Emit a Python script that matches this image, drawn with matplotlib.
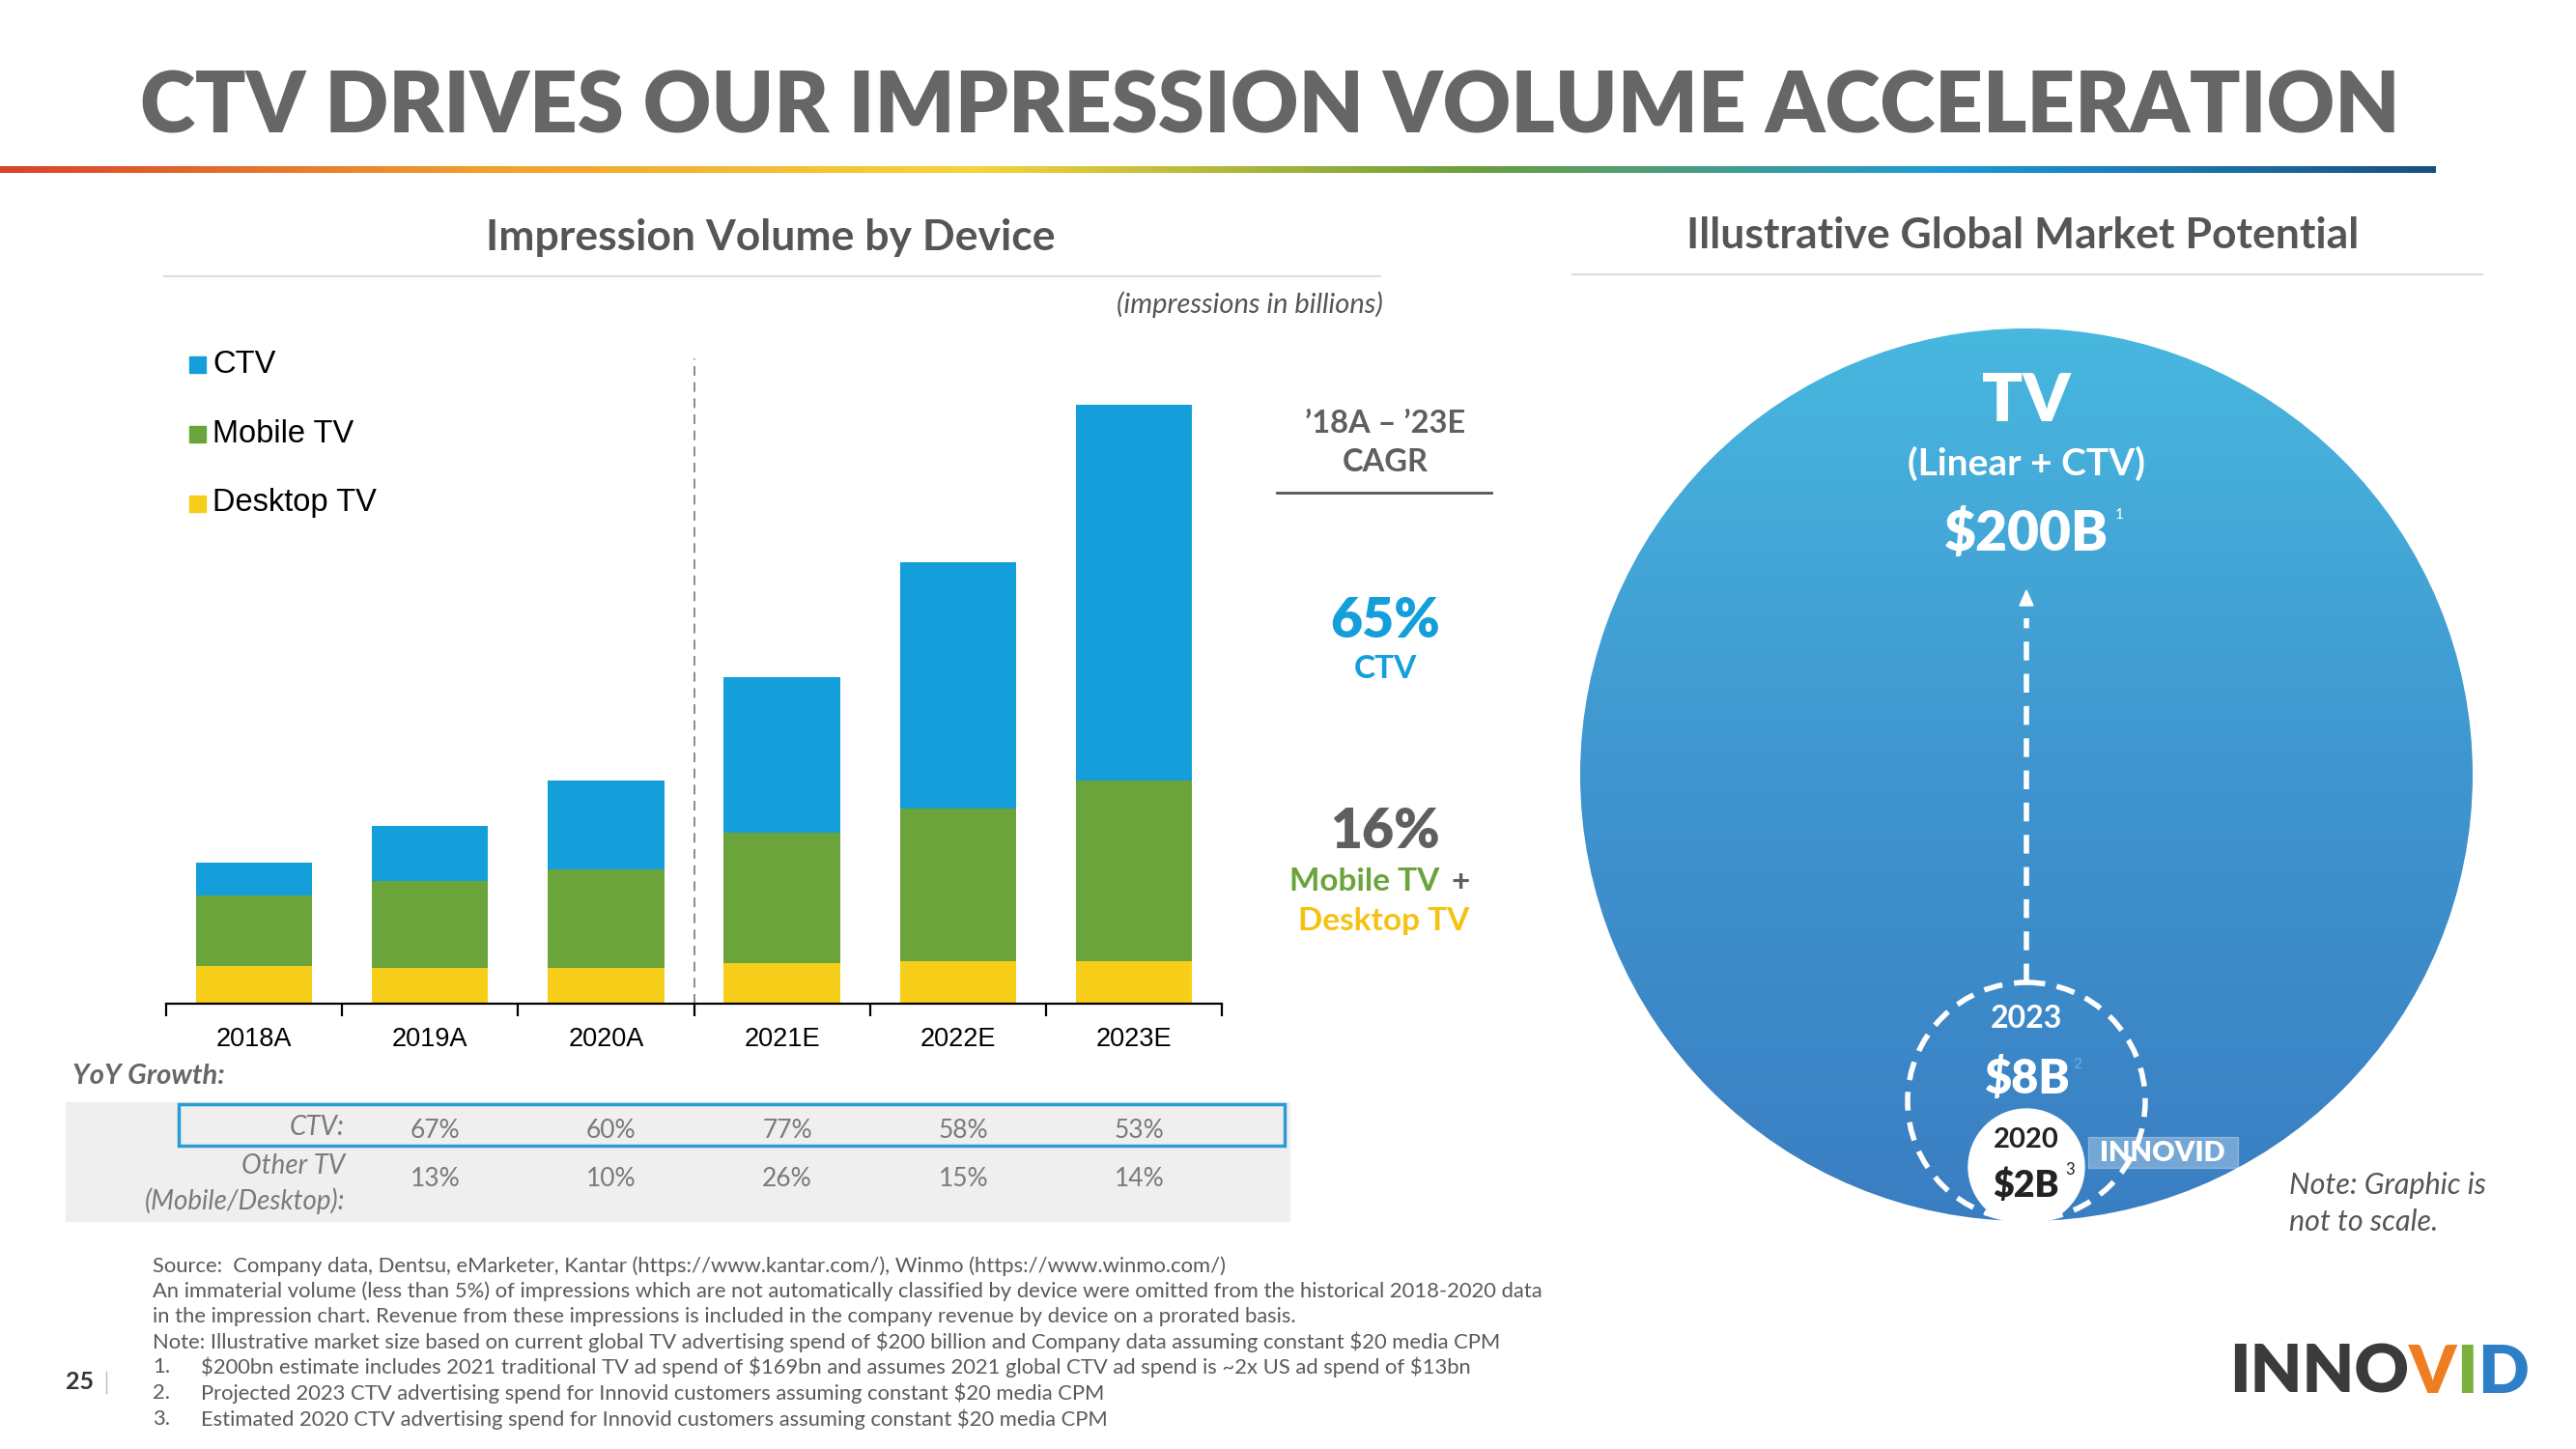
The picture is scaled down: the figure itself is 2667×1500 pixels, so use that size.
import numpy as np
import matplotlib.pyplot as plt
import matplotlib.transforms as mtransforms
from matplotlib.patches import Circle, Rectangle, Polygon
from matplotlib.colors import LinearSegmentedColormap

# --- datos del grafico ---
YEARS = ['2018A', '2019A', '2020A', '2021E', '2022E', '2023E']
DESKTOP = [23, 22, 22, 25, 26, 26]
MOBILE = [43, 53, 60, 79, 93, 110]
CTV = [20, 33, 54, 95, 150, 229]
SERIES_NAMES = ['CTV', 'Mobile TV', 'Desktop TV']

YOY_YEARS = YEARS[1:]
YOY_CTV = ['67%', '60%', '77%', '58%', '53%']
YOY_OTHER = ['13%', '10%', '26%', '15%', '14%']

CAGR_CTV = '65%'
CAGR_OTHER = '16%'

FOOTNOTES = [
    'Source:  Company data, Dentsu, eMarketer, Kantar (https://www.kantar.com/), Winmo (https://www.winmo.com/)',
    'An immaterial volume (less than 5%) of impressions which are not automatically classified by device were omitted from the historical 2018-2020 data',
    'in the impression chart. Revenue from these impressions is included in the company revenue by device on a prorated basis.',
    'Note: Illustrative market size based on current global TV advertising spend of $200 billion and Company data assuming constant $20 media CPM',
]
NUMBERED_NOTES = [
    '$200bn estimate includes 2021 traditional TV ad spend of $169bn and assumes 2021 global CTV ad spend is ~2x US ad spend of $13bn',
    'Projected 2023 CTV advertising spend for Innovid customers assuming constant $20 media CPM',
    'Estimated 2020 CTV advertising spend for Innovid customers assuming constant $20 media CPM',
]

# --- colores ---
BLUE = '#149fda'
GREEN = '#6aa43a'
YELLOW = '#f7ce19'
GRAY = '#5f5f5f'
LIGHTGRAY = '#7a7a7a'
GEO = 'Lato'
ARIAL = 'Liberation Sans'

W, H = 2667, 1500
fig = plt.figure(figsize=(W / 100, H / 100), dpi=100)

# capa de fondo en coordenadas de pixel
ov = fig.add_axes([0, 0, 1, 1], zorder=0)
ov.set_xlim(0, W)
ov.set_ylim(H, 0)
ov.axis('off')


def txt(x, y, s, size, color=GRAY, weight='normal', ha='center', style='normal', family=GEO, **kw):
    return ov.text(x, y, s, fontsize=size, color=color, fontweight=weight, ha=ha, va='center',
                   fontstyle=style, family=family, parse_math=False, **kw)


# titulo
txt(1315, 113, 'CTV DRIVES OUR IMPRESSION VOLUME ACCELERATION', 62.5, color='#666666', weight='heavy')

# linea degradada
line_cmap = LinearSegmentedColormap.from_list('bar', ['#d9432c', '#f0a12e', '#f6d33b', '#6f9f3c',
                                                      '#1d9ad6', '#1b4f82'])
ov.imshow(np.linspace(0, 1, 512).reshape(1, -1), cmap=line_cmap, extent=[0, 2522, 179, 172],
          aspect='auto', zorder=1)

# subtitulos
txt(798, 246, 'Impression Volume by Device', 32, weight='bold', color='#555555')
ov.plot([170, 1429], [286, 286], color='#dddddd', lw=1.5)
txt(2094, 244, 'Illustrative Global Market Potential', 32, weight='bold', color='#555555')
ov.plot([1628, 2570], [284, 284], color='#dddddd', lw=1.5)
txt(1432, 315, '(impressions in billions)', 21, style='italic', ha='right', color='#555555')

# --- grafico de barras ---
ax = fig.add_axes([172 / W, 1 - 1039 / H, (1265 - 172) / W, (1039 - 371) / H], zorder=2)
ax.set_facecolor('none')
x = np.arange(len(YEARS))
bottom2 = np.array(DESKTOP) + np.array(MOBILE)
ax.bar(x, DESKTOP, width=0.66, color=YELLOW)
ax.bar(x, MOBILE, width=0.66, bottom=DESKTOP, color=GREEN)
ax.bar(x, CTV, width=0.66, bottom=bottom2, color=BLUE)
ax.axvline(2.5, color='#777777', lw=1.2, ls=(0, (6, 4)))
ax.set_xlim(-0.5, len(YEARS) - 0.5)
ax.set_ylim(0, 393)
for s in ['top', 'right', 'left']:
    ax.spines[s].set_visible(False)
ax.spines['bottom'].set_linewidth(1.6)
ax.set_yticks([])
ax.set_xticks(x)
ax.set_xticklabels(YEARS, fontsize=19.5, family=ARIAL)
ax.set_xticks(np.arange(-0.5, len(YEARS)), minor=True)
ax.tick_params(axis='x', which='major', length=0, pad=17)
ax.tick_params(axis='x', which='minor', length=9, width=1.6, direction='out')

# leyenda
for i, (name, col) in enumerate(zip(SERIES_NAMES, [BLUE, GREEN, YELLOW])):
    yy = 377 + i * 72
    ov.add_patch(Rectangle((196, yy - 8), 17, 17, color=col, zorder=3))
    txt(220, yy, name, 23.5, color='black', ha='left', family=ARIAL)

# CAGR
txt(1434, 439, '\u201918A \u2013 \u201923E', 23.5, weight='bold')
txt(1434, 479, 'CAGR', 23.5, weight='bold')
ov.plot([1322, 1544], [510, 510], color='#555555', lw=2)
txt(1434, 643, CAGR_CTV, 41, color=BLUE, weight='heavy')
txt(1434, 693, 'CTV', 24, color=BLUE, weight='bold')
txt(1434, 861, CAGR_OTHER, 41, color=GRAY, weight='heavy')
txt(1490, 913, 'Mobile TV', 24, color=GREEN, weight='bold', ha='right')
txt(1503, 913, '+', 24, color=GRAY, weight='bold', ha='left')
txt(1433, 954, 'Desktop TV', 24, color='#f5c212', weight='bold')

# tabla de crecimiento
txt(75, 1114, 'YoY Growth:', 21, weight='bold', style='italic', ha='left', color='#666666')
ov.add_patch(Rectangle((68, 1141), 1267, 123, color='#efefef', zorder=1))
ov.add_patch(Rectangle((185, 1143), 1145, 43, fill=False, ec='#2a9bd5', lw=2.5, zorder=2))
txt(357, 1167, 'CTV:', 20, style='italic', ha='right', color=LIGHTGRAY)
txt(357, 1207, 'Other TV', 20, style='italic', ha='right', color=LIGHTGRAY)
txt(357, 1243, '(Mobile/Desktop):', 20, style='italic', ha='right', color=LIGHTGRAY)
tr = mtransforms.blended_transform_factory(ax.transData, ov.transData)
for yr, a, b in zip(YOY_YEARS, YOY_CTV, YOY_OTHER):
    xi = YEARS.index(yr) + 0.03
    ov.text(xi, 1171, a, transform=tr, fontsize=19, color=LIGHTGRAY, ha='center', va='center',
            family=GEO)
    ov.text(xi, 1220, b, transform=tr, fontsize=19, color=LIGHTGRAY, ha='center', va='center',
            family=GEO)

# notas al pie
for i, s in enumerate(FOOTNOTES):
    txt(158, 1311 + i * 26, s, 15.8, ha='left', color='#5a5a5a')
for i, s in enumerate(NUMBERED_NOTES):
    yy = 1415 + i * 27
    txt(158, yy, f'{i + 1}.', 15.8, ha='left', color='#5a5a5a')
    txt(208, yy, s, 15.8, ha='left', color='#5a5a5a')
txt(68, 1430, '25', 18, weight='bold', ha='left', color='#333333')
ov.plot([110, 110], [1420, 1442], color='#bbbbbb', lw=1)

# --- circulo de mercado ---
cx, cy, r = 2098, 802, 462
circ_cmap = LinearSegmentedColormap.from_list('circ', ['#48b8df', '#3f95cf', '#3a7ec2'])
im = ov.imshow(np.linspace(0, 1, 256).reshape(-1, 1), cmap=circ_cmap,
               extent=[cx - r, cx + r, cy + r, cy - r], aspect='auto', zorder=1)
im.set_clip_path(Circle((cx, cy), r, transform=ov.transData))
ov.set_xlim(0, W)
ov.set_ylim(H, 0)

txt(cx, 417, 'TV', 50, color='white', weight='heavy')
txt(cx, 480, '(Linear + CTV)', 28, color='white', weight='bold')
txt(cx, 552, '$200B', 41, color='white', weight='heavy')
txt(2194, 533, '1', 11, color='white')

# flecha discontinua
ov.plot([cx, cx], [1017, 640], color='white', lw=4, ls=(0, (3.5, 2.5)), zorder=3)
ov.add_patch(Polygon([[cx - 7, 627], [cx + 7, 627], [cx, 611]], color='white', zorder=3))
ov.add_patch(Circle((cx, 1140), 123, fill=False, ec='white', lw=4, ls=(0, (3.5, 2.2)), zorder=3))
ov.add_patch(Circle((cx, 1208), 60, color='white', zorder=3))

txt(cx, 1055, '2023', 23, color='white', weight='bold', zorder=4)
txt(cx, 1117, '$8B', 35, color='white', weight='heavy', zorder=4)
txt(2151, 1102, '2', 11, color='#5ab8e8', zorder=4)
txt(cx, 1180, '2020', 21, color='#222222', weight='bold', zorder=4)
txt(cx, 1227, '$2B', 27, color='#222222', weight='heavy', zorder=4)
txt(2143, 1211, '3', 12, color='#222222', zorder=4)

# etiqueta pequena del logo
ov.add_patch(Rectangle((2162, 1177), 155, 32, color='white', alpha=0.3, zorder=3))
txt(2239, 1194, 'INNOVID', 21, color='white', weight='heavy', zorder=4)

txt(2370, 1227, 'Note: Graphic is', 22, style='italic', ha='left', color='#555555')
txt(2370, 1265, 'not to scale.', 22, style='italic', ha='left', color='#555555')

# logo
renderer = fig.canvas.get_renderer()
xpos = 2308
for part, col in [('INNO', '#3b3b3b'), ('V', '#ef7d22'), ('I', '#7ab03c'), ('D', '#2f7fc8')]:
    t = txt(xpos, 1422, part, 50, color=col, weight='heavy', ha='left')
    bb = t.get_window_extent(renderer)
    xpos += bb.width

fig.savefig('out.png', dpi=100)
